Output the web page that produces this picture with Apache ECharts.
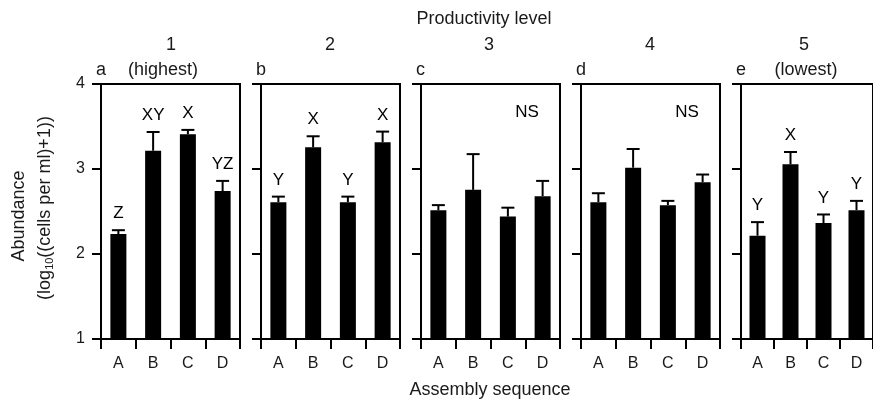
<!DOCTYPE html>
<html>
<head>
<meta charset="utf-8">
<script src="https://cdn.jsdelivr.net/npm/echarts@6/dist/echarts.min.js"></script>
<style>
html,body{margin:0;padding:0;background:#fff;}
#chart{width:873px;height:401px;}
</style>
</head>
<body>
<div id="chart"></div>
<script>
// ---- data ----
var categories = ['A', 'B', 'C', 'D'];
var panelNumbers = ['1', '2', '3', '4', '5'];
var panelSubtitles = ['(highest)', '', '', '', '(lowest)'];
var panelLetters = ['a', 'b', 'c', 'd', 'e'];
var yTicks = [1, 2, 3, 4];

var mean1 = [2.235, 3.215, 3.41, 2.74];
var err1  = [0.045, 0.22, 0.05, 0.12];
var sig1  = ['Z', 'XY', 'X', 'YZ'];

var mean2 = [2.61, 3.255, 2.61, 3.315];
var err2  = [0.065, 0.13, 0.065, 0.125];
var sig2  = ['Y', 'X', 'Y', 'X'];

var mean3 = [2.515, 2.755, 2.44, 2.68];
var err3  = [0.06, 0.42, 0.105, 0.18];
var sig3  = ['', '', '', ''];

var mean4 = [2.61, 3.015, 2.575, 2.845];
var err4  = [0.105, 0.22, 0.05, 0.09];
var sig4  = ['', '', '', ''];

var mean5 = [2.215, 3.055, 2.365, 2.515];
var err5  = [0.16, 0.145, 0.10, 0.11];
var sig5  = ['Y', 'X', 'Y', 'Y'];

var panelNote = ['', '', 'NS', 'NS', ''];

var means = [mean1, mean2, mean3, mean4, mean5];
var errs = [err1, err2, err3, err4, err5];
var sigs = [sig1, sig2, sig3, sig4, sig5];

// ---- layout ----
var FONT = '"Liberation Sans", Arial, Helvetica, sans-serif';
var TXT = '#1a1a1a';
var gridLeft = [101, 261, 421, 581, 741];
var gridW = 139, gridTop = 84, gridH = 255;
var numX = [171, 330, 489, 650, 804];
var subX = [163, 0, 0, 0, 806];

var grids = [], xAxes = [], yAxes = [], series = [], graphics = [];

function txt(x, y, s, size, align, color) {
  return {type: 'text', x: x, y: y, silent: true, style: {
    text: s, fill: color || TXT, font: size + 'px ' + FONT,
    align: align || 'center', verticalAlign: 'middle',
    textAlign: align || 'center', textVerticalAlign: 'middle'}};
}

for (var i = 0; i < 5; i++) {
  grids.push({
    left: gridLeft[i], top: gridTop, width: gridW, height: gridH,
    show: true, borderColor: '#000', borderWidth: 2, backgroundColor: 'transparent'
  });
  xAxes.push({
    type: 'category', gridIndex: i, data: categories,
    axisLine: {show: true, lineStyle: {color: '#000', width: 2}},
    axisTick: {show: true, length: 10, lineStyle: {color: '#000', width: 2}},
    axisLabel: {fontFamily: FONT, fontSize: 16, color: TXT, margin: 17},
    splitLine: {show: false}
  });
  yAxes.push({
    type: 'value', gridIndex: i, min: yTicks[0], max: yTicks[yTicks.length - 1], interval: 1,
    axisLine: {show: true, lineStyle: {color: '#000', width: 2}},
    axisTick: {show: true, length: 9, lineStyle: {color: '#000', width: 2}},
    axisLabel: {show: i === 0, fontFamily: FONT, fontSize: 16, color: TXT, margin: 16},
    splitLine: {show: false}
  });
  series.push({
    type: 'bar', xAxisIndex: i, yAxisIndex: i, barWidth: 16,
    itemStyle: {color: '#000'}, data: means[i], animation: false
  });
  (function (pi) {
    var d = means[pi].map(function (m, k) { return [k, m, errs[pi][k]]; });
    series.push({
      type: 'custom', xAxisIndex: pi, yAxisIndex: pi, data: d, animation: false, z: 5,
      renderItem: function (params, api) {
        var k = api.value(0), m = api.value(1), e = api.value(2);
        var p0 = api.coord([k, m]);
        var p1 = api.coord([k, m + e]);
        var children = [
          {type: 'line', shape: {x1: p0[0], y1: p0[1], x2: p1[0], y2: p1[1]}, style: {stroke: '#000', lineWidth: 2}},
          {type: 'line', shape: {x1: p1[0] - 6.5, y1: p1[1], x2: p1[0] + 6.5, y2: p1[1]}, style: {stroke: '#000', lineWidth: 2}}
        ];
        var lab = sigs[pi][params.dataIndex];
        if (lab) {
          children.push({
            type: 'text', x: p1[0], y: p1[1] - 8,
            style: {text: lab, fill: '#000', font: '17px ' + FONT, align: 'center', verticalAlign: 'bottom', textAlign: 'center', textVerticalAlign: 'bottom'}
          });
        }
        return {type: 'group', children: children};
      }
    });
  })(i);

  graphics.push(txt(numX[i], 45, panelNumbers[i], 18));
  if (panelSubtitles[i]) graphics.push(txt(subX[i], 70, panelSubtitles[i], 18));
  graphics.push(txt(gridLeft[i] - 5, 70, panelLetters[i], 18, 'left'));
  if (panelNote[i]) graphics.push(txt(gridLeft[i] + gridW - 33, 112, panelNote[i], 17, 'center', '#000'));
}

graphics.push(txt(484, 19, 'Productivity level', 18));
graphics.push(txt(490, 390, 'Assembly sequence', 18));
var t1 = txt(19, 216, 'Abundance', 18); t1.rotation = Math.PI / 2;
graphics.push(t1);
graphics.push({
  type: 'text', x: 45, y: 208, rotation: Math.PI / 2, silent: true,
  style: {
    text: '(log{sub|10}((cells per ml)+1))',
    fill: TXT, font: '18px ' + FONT,
    align: 'center', verticalAlign: 'middle', textAlign: 'center', textVerticalAlign: 'middle',
    rich: {sub: {fontSize: 11, fontFamily: FONT, fill: TXT, color: TXT, verticalAlign: 'bottom', padding: [9, 0, 0, 0]}}
  }
});

var chart = echarts.init(document.getElementById('chart'), null, {renderer: 'canvas'});
chart.setOption({
  animation: false,
  backgroundColor: '#fff',
  grid: grids, xAxis: xAxes, yAxis: yAxes, series: series, graphic: graphics
});
</script>
</body>
</html>
